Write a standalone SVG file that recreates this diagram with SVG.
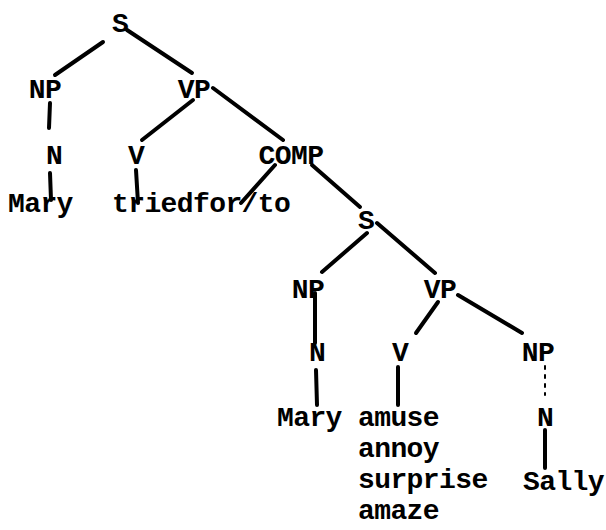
<svg xmlns="http://www.w3.org/2000/svg" width="606" height="530" viewBox="0 0 606 530">
<style>
text{font-family:"Liberation Mono","Courier New",monospace;font-size:28px;font-weight:bold;letter-spacing:-0.6px;fill:#000}
.c{text-anchor:middle}
.e line{stroke:#000;stroke-width:4;stroke-linecap:round}
.e line.f{stroke-width:2;stroke-dasharray:3 6}
</style>
<rect width="606" height="530" fill="#fff"/>
<g class="e" id="connectors">
<line x1="103" y1="42" x2="55" y2="75"/>
<line x1="127" y1="30" x2="192" y2="73"/>
<line x1="50" y1="103" x2="49" y2="128"/>
<line x1="193" y1="100" x2="142" y2="140"/>
<line x1="213" y1="88" x2="283" y2="140"/>
<line x1="50" y1="173" x2="51" y2="200"/>
<line x1="136" y1="170" x2="138" y2="203"/>
<line x1="275" y1="165" x2="241" y2="203"/>
<line x1="312" y1="165" x2="360" y2="207"/>
<line x1="367" y1="233" x2="322" y2="272"/>
<line x1="377" y1="223" x2="435" y2="273"/>
<line x1="315" y1="293" x2="315" y2="343"/>
<line x1="438" y1="302" x2="416" y2="333"/>
<line x1="458" y1="295" x2="522" y2="333"/>
<line class="f" x1="545" y1="366" x2="545" y2="395"/>
<line x1="316" y1="370" x2="317" y2="405"/>
<line x1="398" y1="367" x2="398" y2="405"/>
<line x1="545" y1="430" x2="545" y2="468"/>
</g>
<g id="S1"><text class="c" x="120" y="32">S</text></g>
<g id="NP1"><text class="c" x="45" y="98">NP</text></g>
<g id="VP1"><text class="c" x="194" y="98">VP</text></g>
<g id="N1"><text class="c" x="54" y="164">N</text></g>
<g id="V1"><text class="c" x="136" y="164">V</text></g>
<g id="COMP"><text class="c" x="291" y="164">COMP</text></g>
<g id="Mary1"><text x="8" y="212">Mary</text></g>
<g id="tried"><text x="112" y="212">triedfor/to</text></g>
<g id="S2"><text class="c" x="366" y="229">S</text></g>
<g id="NP2"><text class="c" x="308" y="298">NP</text></g>
<g id="VP2"><text class="c" x="440" y="298">VP</text></g>
<g id="N2"><text class="c" x="317" y="361">N</text></g>
<g id="V2"><text class="c" x="400" y="361">V</text></g>
<g id="NP3"><text class="c" x="538" y="361">NP</text></g>
<g id="Mary2"><text x="277" y="426">Mary</text></g>
<g id="verbs"><text x="358" y="426">amuse</text><text x="358" y="457">annoy</text><text x="358" y="488">surprise</text><text x="358" y="519">amaze</text></g>
<g id="N3"><text class="c" x="545" y="426">N</text></g>
<g id="Sally"><text x="523" y="490">Sally</text></g>
</svg>
